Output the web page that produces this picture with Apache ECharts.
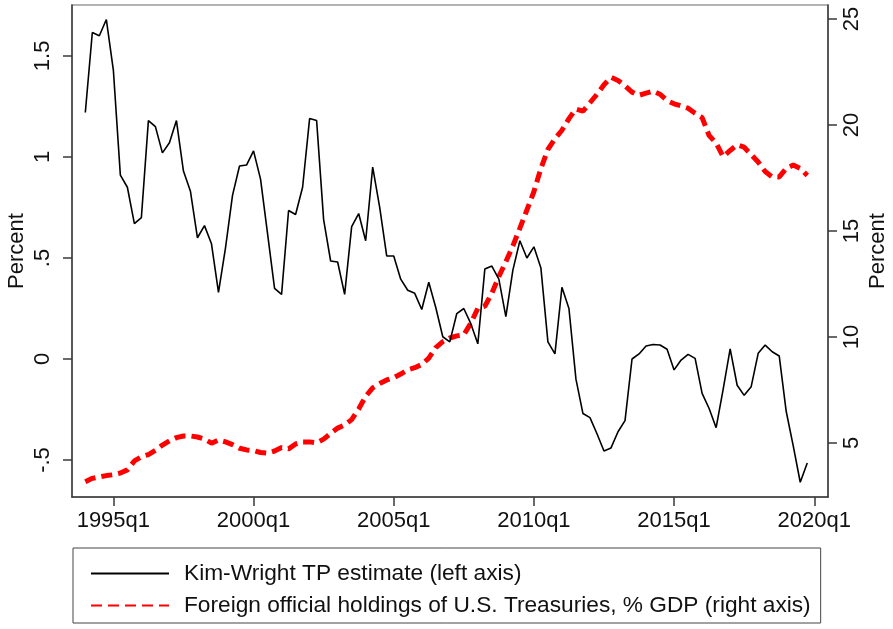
<!DOCTYPE html>
<html>
<head>
<meta charset="utf-8">
<script src="https://cdn.jsdelivr.net/npm/echarts@6/dist/echarts.min.js"></script>
<style>
html,body{margin:0;padding:0;background:#fff;}
#chart{width:893px;height:629px;}
</style>
</head>
<body>
<div id="chart"></div>
<script>
// Quarters 1994q1 .. 2019q4
var quarters = [];
for (var y = 1994; y <= 2019; y++) { for (var q = 1; q <= 4; q++) { quarters.push(y + 'q' + q); } }

// Kim-Wright term premium estimate (percent, left axis)
var tpEstimate = [
  1.22, 1.616, 1.60, 1.68,
  1.43, 0.91, 0.85, 0.67,
  0.70, 1.18, 1.15, 1.02,
  1.07, 1.18, 0.93, 0.83,
  0.60, 0.66, 0.57, 0.33,
  0.55, 0.81, 0.955, 0.96,
  1.03, 0.89, 0.62, 0.35,
  0.32, 0.735, 0.715, 0.85,
  1.19, 1.18, 0.69, 0.485,
  0.48, 0.32, 0.655, 0.72,
  0.585, 0.95, 0.75, 0.51,
  0.51, 0.395, 0.34, 0.325,
  0.245, 0.38, 0.255, 0.11,
  0.085, 0.225, 0.25, 0.175,
  0.075, 0.445, 0.46, 0.395,
  0.21, 0.44, 0.585, 0.50,
  0.555, 0.45, 0.085, 0.025,
  0.355, 0.25, -0.10, -0.27,
  -0.29, -0.37, -0.455, -0.44,
  -0.36, -0.305, 0.0, 0.025,
  0.064, 0.072, 0.069, 0.048,
  -0.054, -0.005, 0.023, 0.003,
  -0.17, -0.245, -0.34, -0.15,
  0.05, -0.13, -0.18, -0.137,
  0.028, 0.069, 0.036, 0.015,
  -0.26, -0.43, -0.61, -0.515
];

// Foreign official holdings of U.S. Treasuries, % GDP (right axis)
var foreignHoldings = [
  3.17, 3.33, 3.40, 3.46,
  3.50, 3.58, 3.73, 4.15,
  4.35, 4.45, 4.65, 4.90,
  5.10, 5.25, 5.33, 5.33,
  5.28, 5.18, 4.99, 5.14,
  5.05, 4.92, 4.75, 4.67,
  4.64, 4.55, 4.52, 4.62,
  4.78, 4.72, 4.95, 5.05,
  5.05, 5.01, 5.18, 5.45,
  5.70, 5.85, 6.10, 6.60,
  7.20, 7.60, 7.80, 7.97,
  8.08, 8.25, 8.45, 8.55,
  8.70, 9.00, 9.50, 9.78,
  9.95, 10.05, 10.10, 10.65,
  11.35, 11.45, 12.06, 12.85,
  13.55, 14.30, 15.13, 15.99,
  16.85, 17.95, 18.85, 19.35,
  19.75, 20.30, 20.75, 20.65,
  21.05, 21.45, 21.90, 22.25,
  22.10, 21.85, 21.55, 21.40,
  21.50, 21.60, 21.45, 21.15,
  21.00, 20.90, 20.79, 20.55,
  20.35, 19.50, 19.15, 18.50,
  18.80, 19.06, 18.95, 18.60,
  18.25, 17.80, 17.55, 17.55,
  17.95, 18.11, 17.95, 17.62
];

var xTicks = [1995, 2000, 2005, 2010, 2015, 2020];
var leftTicks = [-0.5, 0, 0.5, 1, 1.5];
var rightTicks = [5, 10, 15, 20, 25];
var leftTickLabels = ['-.5', '0', '.5', '1', '1.5'];

function qToNum(s) {
  var parts = s.split('q');
  return Number(parts[0]) + (Number(parts[1]) - 1) / 4;
}
var tpData = quarters.map(function (s, i) { return [qToNum(s), tpEstimate[i]]; });
var fhData = quarters.map(function (s, i) { return [qToNum(s), foreignHoldings[i]]; });

var FONT = 'Liberation Sans';
var FS = 22;
var axisLineStyle = { color: '#3a3a3a', width: 1.5 };

var chart = echarts.init(document.getElementById('chart'), null, { renderer: 'canvas' });
chart.setOption({
  animation: false,
  backgroundColor: '#fff',
  grid: {
    left: 72, right: 65, top: 5, bottom: 132,
    outerBoundsMode: 'none', containLabel: false,
    show: true, borderColor: '#9a9a9a', borderWidth: 1.5, backgroundColor: '#fff'
  },
  xAxis: {
    type: 'value',
    min: 1993.525, max: 2020.49,
    axisLine: { show: true, onZero: false, lineStyle: axisLineStyle },
    axisTick: { show: true, length: 9, lineStyle: axisLineStyle, customValues: xTicks },
    axisLabel: {
      customValues: xTicks, margin: 13,
      fontFamily: FONT, fontSize: FS, color: '#111',
      formatter: function (v) { return v + 'q1'; }
    },
    splitLine: { show: false }
  },
  yAxis: [
    {
      type: 'value', position: 'left',
      min: -0.683, max: 1.752,
      name: 'Percent', nameLocation: 'middle', nameGap: 44, nameRotate: 90,
      nameMoveOverlap: false,
      nameTextStyle: { fontFamily: FONT, fontSize: FS, color: '#111' },
      axisLine: { show: true, onZero: false, lineStyle: axisLineStyle },
      axisTick: { show: true, length: 9, lineStyle: axisLineStyle, customValues: leftTicks },
      axisLabel: {
        customValues: leftTicks, rotate: 90, margin: 18,
        fontFamily: FONT, fontSize: FS, color: '#111',
        formatter: function (v) {
          var idx = leftTicks.indexOf(Math.round(v * 100) / 100);
          return idx >= 0 ? leftTickLabels[idx] : '';
        }
      },
      splitLine: { show: false }
    },
    {
      type: 'value', position: 'right',
      min: 2.45, max: 25.66,
      name: 'Percent', nameLocation: 'middle', nameGap: 39, nameRotate: 90,
      nameMoveOverlap: false,
      nameTextStyle: { fontFamily: FONT, fontSize: FS, color: '#111' },
      axisLine: { show: true, onZero: false, lineStyle: axisLineStyle },
      axisTick: { show: true, length: 9, lineStyle: axisLineStyle, customValues: rightTicks },
      axisLabel: {
        customValues: rightTicks, rotate: 90, margin: 13,
        fontFamily: FONT, fontSize: FS, color: '#111'
      },
      splitLine: { show: false }
    }
  ],
  legend: {
    orient: 'vertical',
    left: 73, top: 548,
    padding: [14, 10, 6, 17],
    itemWidth: 78, itemHeight: 14, itemGap: 9,
    borderColor: '#444', borderWidth: 1, borderRadius: 0,
    itemStyle: { opacity: 0 },
    textStyle: { fontFamily: FONT, fontSize: 22.7, color: '#111', padding: [0, 0, 0, 10] },
    data: [
      { name: 'Kim-Wright TP estimate (left axis)', itemStyle: { opacity: 0 } },
      { name: 'Foreign official holdings of U.S. Treasuries, % GDP (right axis)', itemStyle: { opacity: 0 } }
    ]
  },
  series: [
    {
      name: 'Kim-Wright TP estimate (left axis)',
      type: 'line', yAxisIndex: 0, data: tpData,
      showSymbol: false, symbol: 'none',
      lineStyle: { color: '#000', width: 1.6 },
      itemStyle: { color: '#000' },
      z: 3
    },
    {
      name: 'Foreign official holdings of U.S. Treasuries, % GDP (right axis)',
      type: 'line', yAxisIndex: 1, data: fhData,
      showSymbol: false, symbol: 'none',
      lineStyle: { color: '#ff0000', width: 5, type: [11, 6] },
      itemStyle: { color: '#ff0000' },
      z: 2
    }
  ]
});
</script>
</body>
</html>
